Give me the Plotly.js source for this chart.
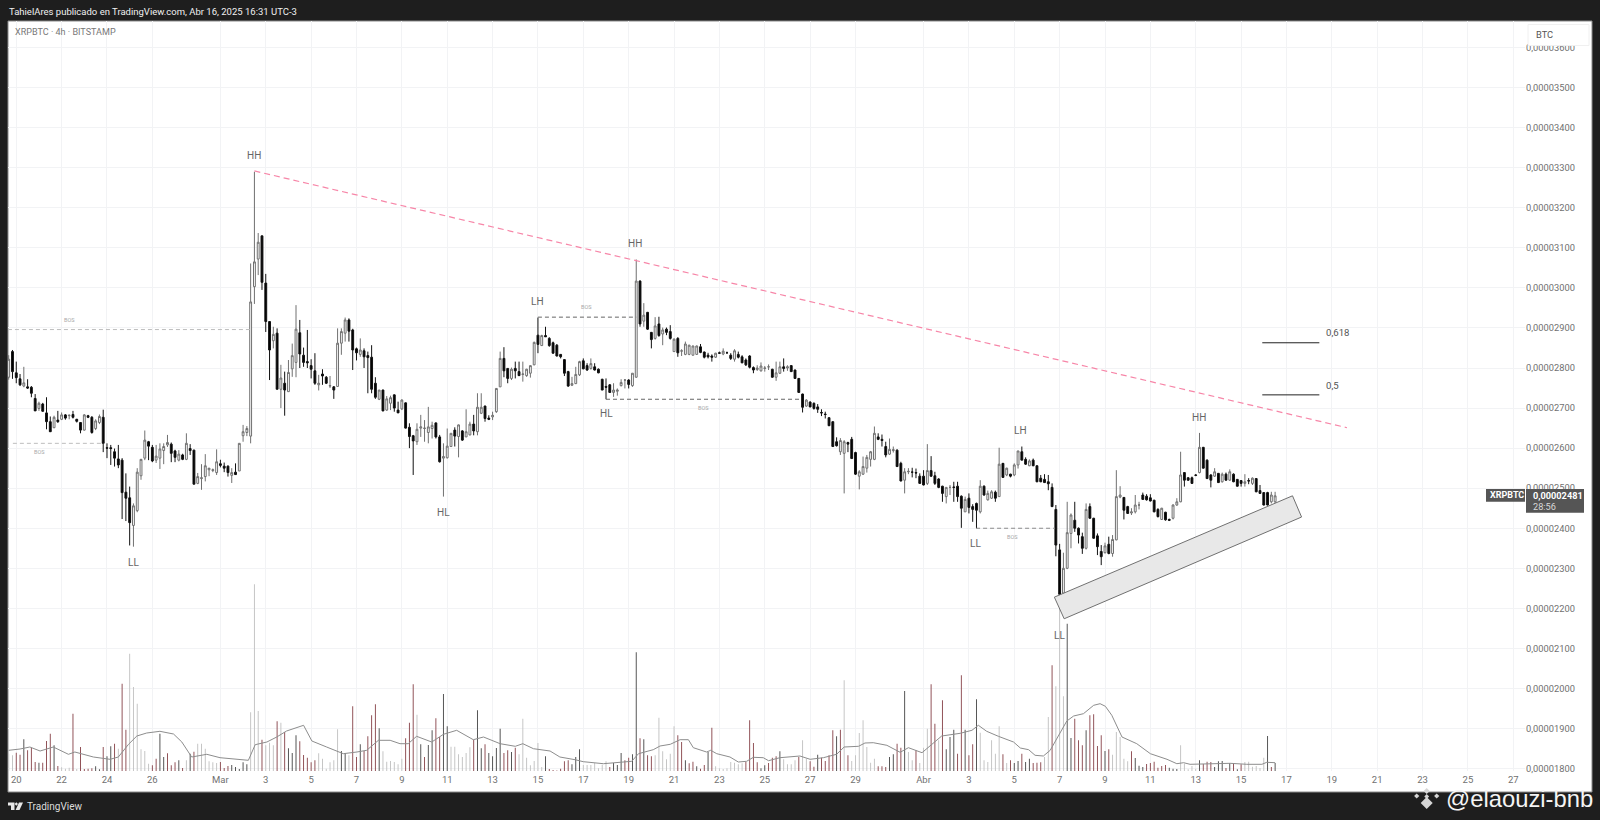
<!DOCTYPE html>
<html><head><meta charset="utf-8">
<script src="https://cdn.plot.ly/plotly-3.0.1.min.js"></script>
<style>html,body{margin:0;padding:0;background:#1e1e1e}#chart{width:1600px;height:820px}</style>
</head><body><div id="chart"></div>
<script>
// ---- candle data, in satoshi (1e-8 BTC), 4h bars ----
const firstBarTime = Date.UTC(2025,1,19,16);
const barHours = 4;
const candleOpen = [
2777,2841,2788,2773,2755,2753,2752,2724,2699,2710,
2688,2666,2651,2670,2672,2683,2681,2684,2672,2664,
2645,2681,2677,2649,2664,2677,2601,2601,2591,2573,
2570,2490,2476,2407,2444,2531,2575,2616,2602,2570,
2575,2594,2608,2610,2593,2570,2583,2572,2599,2595,
2512,2524,2529,2546,2544,2539,2561,2555,2555,2532,
2540,2543,2631,2639,2630,3003,3072,3130,3012,2916,
2868,2887,2747,2762,2741,2798,2814,2888,2832,2816,
2806,2793,2758,2785,2777,2755,2753,2754,2862,2887,
2920,2895,2848,2834,2843,2831,2827,2762,2722,2745,
2695,2712,2733,2695,2698,2713,2652,2631,2616,2650,
2649,2639,2649,2663,2628,2575,2576,2604,2645,2629,
2643,2628,2633,2660,2641,2687,2705,2675,2678,2691,
2753,2824,2799,2774,2799,2791,2784,2781,2787,2808,
2882,2856,2881,2874,2863,2857,2834,2821,2791,2757,
2761,2783,2818,2806,2799,2803,2797,2772,2754,2758,
2739,2742,2756,2770,2770,2756,2777,3017,2917,2939,
2889,2874,2910,2885,2897,2891,2841,2874,2842,2834,
2834,2832,2834,2853,2840,2832,2830,2827,2838,2835,
2838,2832,2822,2834,2828,2820,2830,2801,2796,2793,
2799,2803,2797,2777,2787,2803,2800,2806,2795,2774,
2735,2705,2715,2712,2703,2689,2685,2676,2666,2616,
2591,2587,2614,2622,2589,2530,2535,2550,2572,2572,
2628,2622,2604,2585,2594,2595,2562,2520,2541,2540,
2539,2530,2530,2512,2544,2531,2523,2505,2479,2502,
2503,2505,2480,2441,2475,2454,2462,2441,2505,2471,
2475,2490,2479,2562,2533,2535,2533,2558,2591,2572,
2556,2570,2556,2525,2522,2516,2502,2447,2346,2238,
2300,2387,2420,2400,2379,2350,2454,2425,2381,2342,
2339,2360,2337,2371,2478,2477,2454,2438,2441,2458,
2483,2480,2476,2470,2447,2422,2440,2422,2425,2458,
2466,2539,2526,2526,2533,2539,2602,2570,2533,2530,
2537,2516,2535,2520,2535,2522,2519,2512,2519,2512,
2524,2494,2489,2489,2466,2466];
const candleClose = [
2822,2791,2776,2758,2763,2750,2737,2693,2712,2692,
2666,2641,2677,2666,2683,2675,2682,2677,2667,2645,
2683,2677,2639,2668,2679,2612,2600,2599,2575,2558,
2489,2475,2414,2456,2540,2572,2620,2605,2568,2580,
2598,2604,2614,2587,2577,2585,2572,2612,2594,2510,
2529,2526,2556,2550,2546,2566,2557,2550,2539,2539,
2534,2612,2641,2649,2965,3065,3114,3014,2916,2845,
2884,2747,2775,2745,2789,2831,2897,2835,2814,2813,
2797,2762,2762,2780,2762,2756,2745,2862,2891,2920,
2892,2845,2838,2845,2828,2826,2747,2727,2745,2693,
2723,2726,2700,2688,2720,2650,2629,2618,2647,2653,
2650,2653,2657,2628,2566,2579,2605,2637,2630,2658,
2620,2641,2660,2643,2702,2702,2674,2672,2682,2749,
2824,2793,2774,2797,2793,2781,2785,2797,2806,2864,
2859,2881,2878,2856,2837,2830,2828,2787,2755,2761,
2784,2816,2798,2795,2811,2795,2788,2745,2752,2739,
2745,2745,2764,2770,2759,2787,3017,2910,2932,2897,
2871,2905,2881,2895,2889,2874,2872,2838,2843,2860,
2857,2855,2855,2839,2827,2828,2827,2837,2837,2842,
2838,2824,2843,2827,2813,2808,2802,2795,2800,2805,
2800,2803,2777,2788,2803,2799,2803,2791,2774,2739,
2702,2720,2703,2699,2697,2688,2684,2656,2604,2606,
2619,2616,2610,2574,2535,2541,2554,2577,2591,2637,
2622,2619,2583,2597,2596,2554,2518,2541,2542,2540,
2538,2512,2508,2544,2530,2512,2502,2487,2502,2502,
2502,2479,2450,2472,2452,2447,2445,2505,2483,2487,
2491,2475,2560,2527,2550,2530,2558,2593,2570,2560,
2568,2556,2516,2516,2514,2511,2454,2358,2235,2300,
2389,2433,2400,2383,2350,2447,2425,2375,2354,2329,
2356,2337,2372,2479,2483,2445,2437,2441,2458,2458,
2472,2471,2468,2441,2429,2450,2421,2420,2458,2466,
2533,2520,2520,2512,2532,2602,2550,2524,2520,2541,
2514,2535,2520,2541,2516,2505,2512,2516,2518,2525,
2491,2487,2458,2458,2483,2481];
const candleHigh = [
2832,2845,2816,2785,2803,2772,2755,2735,2716,2713,
2727,2679,2681,2693,2689,2685,2684,2693,2673,2664,
2685,2683,2680,2672,2684,2696,2612,2608,2599,2608,
2575,2537,2504,2462,2550,2573,2644,2618,2608,2608,
2612,2612,2633,2614,2596,2595,2586,2637,2610,2596,
2538,2560,2585,2550,2549,2597,2571,2564,2557,2550,
2562,2612,2658,2655,3061,3290,3137,3130,3035,2917,
2903,2899,2808,2791,2820,2861,2957,2920,2851,2895,
2822,2837,2783,2797,2780,2780,2755,2899,2899,2926,
2924,2898,2851,2874,2849,2841,2857,2777,2745,2746,
2730,2731,2734,2716,2722,2714,2662,2633,2662,2683,
2670,2703,2666,2664,2633,2612,2649,2637,2652,2659,
2645,2697,2666,2683,2737,2737,2706,2682,2691,2749,
2841,2852,2799,2801,2816,2816,2816,2798,2806,2866,
2926,2883,2903,2877,2866,2860,2835,2822,2793,2778,
2803,2818,2824,2812,2824,2812,2799,2773,2774,2760,
2762,2749,2772,2772,2772,2787,3071,3019,2962,2940,
2890,2927,2928,2901,2901,2907,2874,2877,2847,2866,
2858,2856,2856,2860,2841,2838,2834,2838,2841,2849,
2841,2837,2847,2841,2832,2824,2832,2804,2807,2814,
2805,2809,2798,2816,2816,2824,2807,2807,2796,2775,
2736,2722,2717,2714,2710,2697,2691,2677,2667,2627,
2625,2620,2616,2628,2591,2545,2579,2583,2593,2654,
2637,2634,2616,2624,2604,2597,2566,2550,2550,2551,
2549,2537,2545,2610,2580,2541,2525,2506,2502,2508,
2516,2516,2482,2479,2487,2460,2464,2520,2507,2494,
2495,2494,2601,2563,2551,2536,2562,2593,2604,2577,
2572,2574,2557,2533,2535,2533,2512,2458,2361,2339,
2466,2437,2466,2402,2389,2462,2462,2426,2387,2358,
2364,2379,2383,2545,2505,2478,2456,2450,2483,2466,
2489,2485,2485,2471,2450,2451,2441,2424,2460,2475,
2591,2540,2528,2529,2535,2638,2603,2572,2535,2550,
2538,2539,2539,2547,2537,2523,2520,2535,2525,2527,
2525,2508,2490,2491,2491,2491];
const candleLow = [
2771,2773,2762,2755,2752,2748,2727,2693,2693,2691,
2647,2641,2650,2663,2670,2671,2672,2674,2664,2637,
2644,2675,2636,2645,2660,2590,2575,2558,2554,2550,
2423,2418,2357,2354,2440,2521,2570,2570,2565,2563,
2548,2560,2603,2565,2565,2567,2570,2570,2583,2510,
2510,2496,2517,2530,2540,2533,2552,2540,2529,2513,
2533,2543,2616,2630,2612,2960,3032,2995,2890,2770,
2849,2747,2700,2681,2741,2778,2777,2800,2803,2800,
2774,2758,2744,2758,2760,2750,2723,2754,2833,2866,
2866,2795,2819,2828,2800,2737,2737,2723,2720,2692,
2693,2695,2691,2688,2695,2649,2600,2533,2608,2628,
2616,2612,2624,2624,2564,2479,2574,2603,2604,2577,
2618,2628,2632,2632,2632,2685,2666,2670,2670,2688,
2753,2777,2762,2770,2774,2780,2766,2778,2776,2807,
2837,2855,2878,2853,2836,2829,2824,2780,2753,2755,
2760,2780,2797,2793,2796,2794,2787,2745,2722,2738,
2728,2731,2754,2749,2749,2753,2776,2903,2903,2895,
2849,2871,2878,2857,2882,2871,2840,2828,2830,2832,
2832,2831,2833,2837,2824,2824,2816,2825,2835,2832,
2836,2820,2816,2824,2812,2805,2799,2787,2793,2791,
2791,2795,2776,2768,2785,2791,2793,2790,2773,2738,
2689,2703,2702,2696,2688,2680,2674,2655,2603,2604,
2583,2487,2590,2573,2533,2497,2533,2539,2554,2570,
2620,2604,2577,2583,2589,2553,2517,2487,2535,2527,
2525,2511,2507,2508,2528,2508,2500,2466,2462,2483,
2466,2466,2401,2441,2437,2416,2400,2437,2481,2469,
2473,2466,2479,2526,2530,2527,2530,2549,2570,2558,
2555,2555,2515,2515,2513,2495,2453,2330,2225,2235,
2298,2350,2391,2362,2336,2347,2424,2374,2333,2308,
2337,2335,2329,2370,2475,2422,2436,2433,2437,2447,
2471,2469,2467,2440,2427,2421,2419,2418,2422,2456,
2465,2504,2518,2511,2530,2537,2549,2523,2502,2528,
2513,2514,2519,2518,2515,2504,2504,2504,2510,2508,
2490,2486,2457,2457,2462,2462];
const volumeValues = [
17.3,15.7,18.3,16.3,31.7,20.7,23.3,9,8.3,8.3,
30,37.3,25.7,5,3.7,2.3,3.3,57.3,2,24,
2,2.3,2.7,4.7,1.7,24,14.7,24.7,27.3,22.3,
87.3,41.3,117.3,84,67.3,21.7,20,7.3,5.7,12.3,
37.3,14,17.7,5.7,8.7,10.7,3,10.7,17.3,19.3,
27.3,27.3,22.3,9.7,8.7,8,9,3,5,6,
4,2,8.7,6.7,58.7,186.7,60,31.3,25.7,28.3,
25.7,49.7,48.3,39,22.7,18,35.7,29.7,16,13.3,
8.7,10.7,17.7,12.3,2.3,8.7,10.7,41.7,20,18,
15.7,64.7,14,26.7,20,34.7,55.7,66.7,42.7,19.7,
9.3,10,9,6.7,12.3,32.7,48.3,86.7,56.3,26.7,
14,26,40.7,52.7,34,77,44.7,24.3,24.3,16.7,
14,18,23.7,31.3,60.7,22.7,26.7,18,14.7,23,
42.3,18,20.7,19,23.3,16.7,52.3,13.3,5.7,10,
28,4,14.7,2,1,0.5,2.3,9.7,10.7,6.7,
14,21.7,6,6,6,8,2.7,6.3,9.7,4,
8,6,18,10.7,13.3,16.7,118.7,32.7,31.7,15.7,
14.7,15.7,53.3,19.7,11.7,17.3,44.7,35.7,29,10.7,
7.7,9.3,4.7,2.3,6,19,43.3,4.7,2.7,2,
2.7,9,8.3,6.7,7.7,9,50.7,28,8.7,2.7,
5.7,8,13.3,14.7,19.7,11.7,6.7,6.7,10.7,14,
30.7,12.3,9.7,4.3,16.3,13.3,10,15.7,40.7,34.7,
41.3,90.7,15.7,10,15.7,38,50.7,24,8.3,12.3,
4.7,4.7,4,14,16.7,27.3,23.3,80,19,10.7,
20.7,8,23.3,42.3,86.7,47.3,30.7,70.7,21.7,34,
41.3,17.3,95.7,41.3,15.7,26.7,71.7,38.3,10.7,9,
30.7,17.3,44.7,16.7,8,10.7,8,10,17.3,9,
12.3,8,8.3,8.7,14,54,105.7,84.7,180,74.7,
147.3,33,52.3,30.7,25.7,40.7,55.7,56.7,25,35.7,
20,21.7,16.3,39,34,12.3,9.7,19.7,13,5.3,
4,7,8,9.3,3.3,5,6,3.3,2.3,2,
25.7,7.3,1.7,5,2.3,10.7,7,9.3,9,4,
9.7,10,3,8,7.3,1.7,6.7,9,9.3,4.3,
5,3,13.3,35,4,8];
const volumeGroup = ("ggrrkrrrkr"+"rrkrgggrgr"+"rrrkkrkkrg"+"rrggggggrr"+"kkrrrkrgkr"+"ggggggrrrk"+
"kkkkgggrgg"+"grgrkkkrrr"+"rrggggggkk"+"grrkrrrrkg"+"gggggrrrgk"+"rkkrrkkggg"+"gggrkkrkkk"+
"krrkrggggg"+"ggkrrrrrrk"+"kkgggggggr"+"kkkrrkkrkr"+"rggggggrrk"+"rrkrrkrggg"+"gggggrrrrk"+
"krrrkggggr"+"ggrrkrrrrk"+"rgrggggggg"+"rrrkkrrkgg"+"rgggrrgrkk"+"krrkrrkggg"+"gggrgrkkrk"+
"krrrggrggg"+"kkrrrkrrrr"+"krgggggrkk"+"krrrrrrkkk"+"gggggkrrrk"+"kkrkrkrggg"+"gggkrk").split("");
// volume moving-average line, read as (bar number, height)
const avgBar = [1,4,6.6,9.3,12.8,16.8,18.5,23.4,27.8,30,32.7,34.9,37.5,41,44.6,46.8,49.4,53.4,56.9,60.4,64.4,66.2,69.3,71.9,74.5,79,81.2,85.1,89.5,93.1,95.7,98.8,101.9,104.5,106.7,108.9,112.9,116,119.5,123.9,126.6,131,
135,137,139.8,144.2,146.8,150.8,153,158.3,165.8,167.6,171.5,173.3,176,178.6,180.8,182.1,185.6,186.7,188.3,191.8,194,196.2,198,200.6,202,205,210.3,213,216.5,220,222,225.8,227.5,229.7,233.3,
236.8,239,242.6,245.2,247.8,252.7,255.8,257.5,259.7,262.8,266.8,268.6,270.8,272.5,274.7,276.5,279.1,280.9,282.7,285.3,288,289.7,291.1,292.8,295.5,299.4,303,307.4,310,311.8,313.5,319.7,324.1,328.5,332.5,333.8,336];
const avgValue = [20.7,22,24,20,24,16.7,19,14,11.7,14,26.7,35,38,39.7,37,29,14,16.7,13.3,12.3,10.7,26.3,29,34,40,45.7,30,24,17.3,19,20.7,30.7,30.7,27.3,27.3,34.7,29,36.7,40.7,31.3,34,27.3,
24.7,27.3,22.3,20,14,11.3,9.3,7.3,9.7,17.3,21.3,25,26.7,31.3,31.3,23.3,19,20.7,17.3,14,9,9.7,13.7,13.3,10.3,13.3,15,11.7,13.3,16.7,24,24.7,28,28.3,25.7,
18.7,23.3,18.3,26.7,35,37.7,40.7,45.7,39.7,34.7,29,23,21.3,15.7,15,20.7,37.3,50,55,57.3,65.7,67.3,64.7,55.7,34,27.3,17.3,11.7,7.3,8.3,6.7,7.3,7.7,6.7,6.7,8.7,8.3];
// structure labels
const pivotText = ["HH","HH","LH","HL","HL","LL","LH","HH","LL","LL"];
const pivotBar  = [66,166.7,141,116,159,33.9,268.6,315.8,256.7,278.9];
const pivotPrice= [3330,3111,2967,2439,2686,2314,2645,2676,2362,2132];
// break-of-structure levels
const bosStart = [0.8,2.1,141,159,256.9];
const bosEnd   = [64.8,26.2,167,210.5,277.8];
const bosPrice = [2896,2612,2927,2722,2400];
const bosLabelBar   = [17.0,9.1,153.9,184.7,266.6];
const bosLabelPrice = [2919,2591,2952,2699,2377];
// trend line, fibonacci marks, rising channel
const trendBars = [66,355];
const trendPrices = [3292,2651];
const fibStart = 332.6, fibEnd = 347.7;
const fibPrice = [2863,2733];
const fibText = ["0,618","0,5"];
const fibLabelPrice = [2888.5,2756.5];
const channelBars = [277.6,340.6,343,280.2,277.6];
const channelPrices = [2228,2481,2428,2174,2228];
// axis ticks
const priceTicks = [1800,1900,2000,2100,2200,2300,2400,2500,2600,2700,2800,2900,3000,3100,3200,3300,3400,3500,3600];
const timeTicks = ["2025-02-20","2025-02-22","2025-02-24","2025-02-26","2025-03-01","2025-03-03","2025-03-05","2025-03-07","2025-03-09","2025-03-11","2025-03-13","2025-03-15","2025-03-17","2025-03-19","2025-03-21","2025-03-23","2025-03-25","2025-03-27","2025-03-29","2025-04-01","2025-04-03","2025-04-05","2025-04-07","2025-04-09","2025-04-11","2025-04-13","2025-04-15","2025-04-17","2025-04-19","2025-04-21","2025-04-23","2025-04-25","2025-04-27"];
const timeLabels = ["20","22","24","26","Mar","3","5","7","9","11","13","15","17","19","21","23","25","27","29","Abr","3","5","7","9","11","13","15","17","19","21","23","25","27"];
const lastPrice = 2481;
const countdownText = "28:56";

// ---- helpers and layout geometry ----
const barTime = i => firstBarTime + (i-1)*barHours*3600000;
const barDates = candleOpen.map((_,i)=>barTime(i+1));
const priceLabel = v => "0,0000"+v;
const plotL=8, plotW=1517, plotT=21, plotH=750;
const PX = x => (x-plotL)/plotW;
const PY = y => (plotT+plotH-y)/plotH;
const font = "Roboto, sans-serif";
const toneColor = {g:"#c2c2c2", r:"#8c4a50", k:"#4c4c4c"};

const traces = [
 {type:"bar", x:barDates, y:volumeValues, yaxis:"y", width:barHours*3600000*0.25,
  marker:{color:volumeGroup.map(t=>toneColor[t]), line:{width:0}}, showlegend:false},
 {type:"scatter", mode:"lines", x:avgBar.map(barTime), y:avgValue, yaxis:"y",
  line:{color:"#8d8d8d", width:1, shape:"linear"}, showlegend:false},
 {type:"scatter", mode:"lines", x:channelBars.map(barTime), y:channelPrices, yaxis:"y2",
  fill:"toself", fillcolor:"#e8e8e8", line:{color:"#707070", width:1}, showlegend:false},
 {type:"candlestick", x:barDates, open:candleOpen, high:candleHigh, low:candleLow, close:candleClose, yaxis:"y2",
  increasing:{line:{color:"#707070", width:1}, fillcolor:"#ffffff"},
  decreasing:{line:{color:"#111111", width:1}, fillcolor:"#000000"},
  whiskerwidth:0, showlegend:false},
 {type:"scatter", mode:"lines", x:trendBars.map(barTime), y:trendPrices, yaxis:"y2",
  line:{color:"#f786a8", width:1.2, dash:"6px,4px"}, showlegend:false}
];
bosPrice.forEach((p,i)=>traces.push({type:"scatter", mode:"lines",
  x:[barTime(bosStart[i]),barTime(bosEnd[i])], y:[p,p], yaxis:"y2",
  line:{color:(i<2?"#bdbdbd":(i==4?"#8a8a8a":"#666666")), width:1, dash:"4px,3px"}, showlegend:false}));
fibPrice.forEach(p=>traces.push({type:"scatter", mode:"lines",
  x:[barTime(fibStart),barTime(fibEnd)], y:[p,p], yaxis:"y2",
  line:{color:"#222222", width:1}, showlegend:false}));

const annotations = [];
pivotText.forEach((t,i)=>annotations.push({text:t, x:barTime(pivotBar[i]), y:pivotPrice[i], xref:"x", yref:"y2",
  showarrow:false, font:{family:font,size:10,color:"#666666"}}));
bosLabelBar.forEach((b,i)=>annotations.push({text:"BOS", x:barTime(b), y:bosLabelPrice[i], xref:"x", yref:"y2",
  showarrow:false, font:{family:font,size:5.5,color:"#a8a8a8"}}));
fibPrice.forEach((p,i)=>annotations.push({text:fibText[i], x:barTime(fibEnd+1.2), y:fibLabelPrice[i], xref:"x", yref:"y2",
  xanchor:"left", showarrow:false, font:{family:font,size:9.6,color:"#555555"}}));
const note = (text,x,y,size,color,extra)=>annotations.push(Object.assign({text, x:PX(x), y:PY(y), xref:"paper", yref:"paper",
  xanchor:"left", yanchor:"middle", showarrow:false, font:{family:font,size,color}}, extra||{}));
note("TahielAres publicado en TradingView.com, Abr 16, 2025 16:31 UTC-3",7,11.7,9.5,"#f0f0f0");
note("XRPBTC · 4h · BITSTAMP",13,32.5,9.05,"#777777");
note("TradingView",25,806.5,10,"#dcdcdc");
note("BTC",1534,34.3,9.3,"#555555");
note("<b>XRPBTC</b>",1488,495.3,9,"#ffffff");
note("<b>"+priceLabel(lastPrice)+"</b>",1531,495.3,9.2,"#ffffff");
note(countdownText,1531,506.3,9.2,"#d8d8d8");
note("@elaouzi-bnb",1444,798.5,23.8,"#f4f4f4",{font:{family:"Liberation Sans, Arial, sans-serif",size:23.8,color:"#f4f4f4"}});

const diamond=(cx,cy,r)=>`M${PX(cx-r)},${PY(cy)}L${PX(cx)},${PY(cy-r)}L${PX(cx+r)},${PY(cy)}L${PX(cx)},${PY(cy+r)}Z`;
const poly=pts=>"M"+pts.map(p=>PX(p[0])+","+PY(p[1])).join("L")+"Z";
const deco=(path,color)=>({type:"path",xref:"paper",yref:"paper",path,fillcolor:color,line:{width:0},layer:"above"});
const box=(x0,x1,y0,y1,fill,line)=>({type:"rect",xref:"paper",yref:"paper",x0:PX(x0),x1:PX(x1),y0:PY(y1),y1:PY(y0),
  fillcolor:fill,line:line?{color:line,width:1}:{width:0},layer:"above"});
const shapes=[
 {type:"rect",xref:"paper",yref:"paper",x0:PX(8),x1:PX(1592),y0:PY(792),y1:PY(21),fillcolor:"#ffffff",line:{color:"#8a8a8a",width:1},layer:"below"},
 box(1528,1589,24.5,45.5,"#ffffff","#f0f0f0"),
 box(1486,1525,489,501.7,"#555555"),
 box(1526,1584,489,512.7,"#555555"),
 deco(diamond(1426.7,791,3),"#d6d6d6"),
 deco(diamond(1416.7,796,2.6),"#d6d6d6"),
 deco(diamond(1436.7,796,2.6),"#d6d6d6"),
 deco(diamond(1426.7,796.5,2.4),"#d6d6d6"),
 deco(diamond(1426.7,803,6),"#d6d6d6"),
 deco(poly([[8,802.5],[14.5,802.5],[14.5,810],[11,810],[11,805.5],[8,805.5]]),"#e8e8e8"),
 deco(diamond(16.3,804,1.7),"#e8e8e8"),
 deco(poly([[19,802.5],[23,802.5],[19.5,810],[15.6,810]]),"#e8e8e8")
];

const layout = {
 width:1600, height:820, paper_bgcolor:"#1e1e1e", plot_bgcolor:"#ffffff",
 margin:{l:plotL, r:1600-plotL-plotW, t:plotT, b:820-plotT-plotH, pad:0},
 showlegend:false, barmode:"overlay", hovermode:false,
 xaxis:{type:"date", range:[barTime(0.815),barTime(402.1)], rangeslider:{visible:false},
   tickmode:"array", tickvals:timeTicks, ticktext:timeLabels, ticks:"", ticklabelstandoff:1,
   showgrid:true, gridcolor:"#f2f3f5", gridwidth:1, zeroline:false, showline:false,
   tickangle:0, tickfont:{family:font,size:9.5,color:"#707070"}},
 yaxis:{range:[0,750], visible:false, showgrid:false, zeroline:false, fixedrange:true},
 yaxis2:{overlaying:"y", side:"right", range:[1794,3666.3], anchor:"x",
   tickmode:"array", tickvals:priceTicks, ticktext:priceTicks.map(priceLabel), ticks:"", ticklabelstandoff:5.5,
   showgrid:true, gridcolor:"#f2f3f5", gridwidth:1, zeroline:false, showline:false,
   tickfont:{family:font,size:9.3,color:"#707070"}},
 annotations, shapes
};
Plotly.newPlot("chart", traces, layout, {staticPlot:true, displayModeBar:false, responsive:false});
</script></body></html>
